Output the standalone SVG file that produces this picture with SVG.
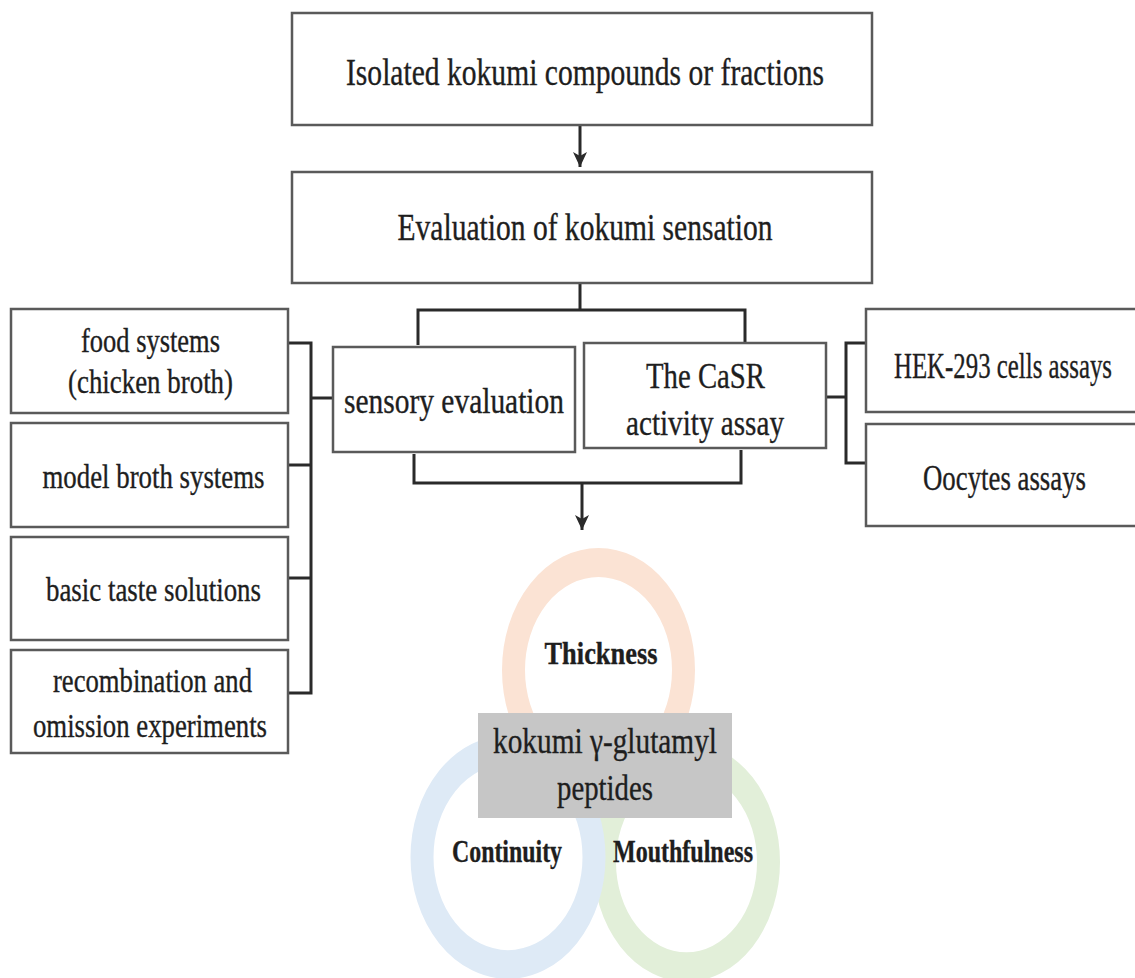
<svg xmlns="http://www.w3.org/2000/svg" width="1135" height="978" viewBox="0 0 1135 978">
<defs>
<style>
.box{fill:#fff;stroke:#5a5a5a;stroke-width:2.5}
.edge{fill:none;stroke:#5a5a5a;stroke-width:2.5}
.t{font-family:"Liberation Serif","Times New Roman",serif;fill:#1e1e1e;stroke:#1e1e1e;stroke-width:0.35;text-anchor:middle}
.b{font-weight:bold}
.ln{fill:none;stroke:#2a2a2a;stroke-width:3}
.ring{fill:none;stroke-width:23}
</style>
<marker id="ah" viewBox="0 0 16 16" refX="15" refY="8" markerWidth="16" markerHeight="16" markerUnits="userSpaceOnUse" orient="auto">
<path d="M0,1 L15,8 L0,15 L4,8 z" fill="#2a2a2a"/>
</marker>
</defs>
<rect width="1135" height="978" fill="#fff"/>

<g id="rings">
<g transform="translate(598.5,670) scale(1,1.265)"><circle r="85" class="ring" stroke="#fbe3d4"/></g>
<g transform="translate(686.5,862) scale(1,1.28)"><circle r="82" class="ring" stroke="#e2efd9"/></g>
<g transform="translate(508,857) scale(1,1.25)"><circle r="86" class="ring" stroke="#deeaf6"/></g>
</g>

<g id="connectors">
<line class="ln" x1="580" y1="125" x2="580" y2="167" marker-end="url(#ah)"/>
<polyline class="ln" points="580,283 580,310"/>
<polyline class="ln" points="418,345 418,310 745,310 745,343"/>
<polyline class="ln" points="414,454 414,483 741,483 741,450"/>
<line class="ln" x1="582" y1="483" x2="582" y2="530" marker-end="url(#ah)"/>
<polyline class="ln" points="288,343 311,343 311,693 288,693"/>
<line class="ln" x1="288" y1="465" x2="311" y2="465"/>
<line class="ln" x1="288" y1="578" x2="311" y2="578"/>
<line class="ln" x1="311" y1="398" x2="333" y2="398"/>
<line class="ln" x1="826" y1="397" x2="846" y2="397"/>
<polyline class="ln" points="866,343 846,343 846,463 866,463"/>
</g>

<g id="n-isolated">
<rect class="box" x="292" y="13" width="580" height="112"/>
<text class="t" x="585" y="85" font-size="37" textLength="478" lengthAdjust="spacingAndGlyphs">Isolated kokumi compounds or fractions</text>
</g>
<g id="n-evaluation">
<rect class="box" x="292" y="172" width="580" height="111"/>
<text class="t" x="585" y="240" font-size="37" textLength="375" lengthAdjust="spacingAndGlyphs">Evaluation of kokumi sensation</text>
</g>
<g id="n-food">
<rect class="box" x="11" y="309" width="277" height="104"/>
<text class="t" x="150.5" y="352" font-size="33" textLength="139" lengthAdjust="spacingAndGlyphs">food systems</text>
<text class="t" x="150.5" y="393" font-size="33" textLength="165" lengthAdjust="spacingAndGlyphs">(chicken broth)</text>
</g>
<g id="n-model">
<rect class="box" x="11" y="423" width="277" height="104"/>
<text class="t" x="153.5" y="488" font-size="33" textLength="222" lengthAdjust="spacingAndGlyphs">model broth systems</text>
</g>
<g id="n-basic">
<rect class="box" x="11" y="537" width="277" height="103"/>
<text class="t" x="153.5" y="601" font-size="33" textLength="215" lengthAdjust="spacingAndGlyphs">basic taste solutions</text>
</g>
<g id="n-recomb">
<rect class="box" x="11" y="650" width="277" height="103"/>
<text class="t" x="152.5" y="692" font-size="33" textLength="199" lengthAdjust="spacingAndGlyphs">recombination and</text>
<text class="t" x="150" y="737" font-size="33" textLength="234" lengthAdjust="spacingAndGlyphs">omission experiments</text>
</g>
<g id="n-sensory">
<rect class="box" x="333" y="347" width="242" height="105"/>
<text class="t" x="454" y="413" font-size="36" textLength="220" lengthAdjust="spacingAndGlyphs">sensory evaluation</text>
</g>
<g id="n-casr">
<rect class="box" x="584" y="343" width="242" height="105"/>
<text class="t" x="705.5" y="388" font-size="36" textLength="119" lengthAdjust="spacingAndGlyphs">The CaSR</text>
<text class="t" x="705" y="435" font-size="36" textLength="158" lengthAdjust="spacingAndGlyphs">activity assay</text>
</g>
<g id="n-hek">
<rect x="866" y="309" width="269" height="103" fill="#fff"/>
<path class="edge" d="M1135,309 H866 V412 H1135"/>
<text class="t" transform="translate(1003,378) scale(0.71,1)" x="0" y="0" font-size="35">HEK-293 cells assays</text>
</g>
<g id="n-oocytes">
<rect x="866" y="424" width="269" height="102" fill="#fff"/>
<path class="edge" d="M1135,424 H866 V526 H1135"/>
<text class="t" x="1004.5" y="490" font-size="35" textLength="163" lengthAdjust="spacingAndGlyphs">Oocytes assays</text>
</g>

<g id="n-thickness">
<text class="t b" x="601" y="664" font-size="31" textLength="113" lengthAdjust="spacingAndGlyphs">Thickness</text>
</g>
<g id="n-continuity">
<text class="t b" x="507" y="862" font-size="31" textLength="110" lengthAdjust="spacingAndGlyphs">Continuity</text>
</g>
<g id="n-mouthfulness">
<text class="t b" x="683" y="862" font-size="31" textLength="140" lengthAdjust="spacingAndGlyphs">Mouthfulness</text>
</g>
<g id="n-peptides">
<rect x="478" y="713" width="254" height="105" fill="#c6c6c6"/>
<text class="t" x="605" y="753" font-size="36" textLength="224" lengthAdjust="spacingAndGlyphs">kokumi γ-glutamyl</text>
<text class="t" x="605" y="800" font-size="36" textLength="96" lengthAdjust="spacingAndGlyphs">peptides</text>
</g>
</svg>
